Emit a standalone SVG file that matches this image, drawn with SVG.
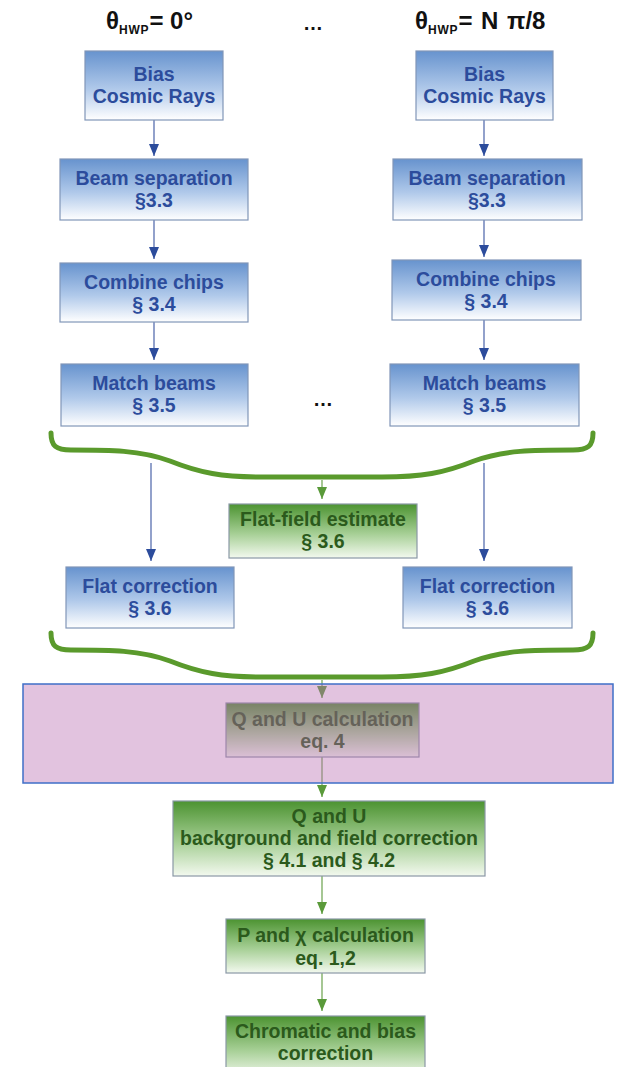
<svg xmlns="http://www.w3.org/2000/svg" width="617" height="1067" viewBox="0 0 617 1067">
  <defs>
    <linearGradient id="gBlue" x1="0" y1="0" x2="0" y2="1">
      <stop offset="0" stop-color="#6793ce"/>
      <stop offset="0.55" stop-color="#b0c9ea"/>
      <stop offset="1" stop-color="#ffffff"/>
    </linearGradient>
    <linearGradient id="gGreen" x1="0" y1="0" x2="0" y2="1">
      <stop offset="0" stop-color="#4c9331"/>
      <stop offset="0.55" stop-color="#a6cf95"/>
      <stop offset="1" stop-color="#f3f9ef"/>
    </linearGradient>
    <marker id="ahB" viewBox="0 0 12 10" refX="12" refY="5" markerWidth="12" markerHeight="10" markerUnits="userSpaceOnUse" orient="auto">
      <path d="M0 0 L12 5 L0 10 Z" fill="#2c4c9c"/>
    </marker>
    <marker id="ahG" viewBox="0 0 12 10" refX="12" refY="5" markerWidth="12" markerHeight="10" markerUnits="userSpaceOnUse" orient="auto">
      <path d="M0 0 L12 5 L0 10 Z" fill="#5a9a3a"/>
    </marker>
  </defs>
  <style>
    text { font-family: "Liberation Sans", Arial, sans-serif; font-weight: bold; }
    .title { font-size: 24px; fill: #111111; }
    .sub { font-size: 12px; letter-spacing: 0.8px; }
    .dots { font-size: 20px; fill: #111111; }
    .bbox { fill: url(#gBlue); stroke: #8196b8; stroke-width: 1.2; }
    .gbox { fill: url(#gGreen); stroke: #8a98a6; stroke-width: 1.2; }
    .bt { font-size: 19.5px; fill: #2c4c9c; text-anchor: middle; }
    .gt { font-size: 19.5px; fill: #2b5a1c; text-anchor: middle; }
    .blink { stroke: #4a63a8; stroke-width: 1.2; fill: none; marker-end: url(#ahB); }
    .glink { stroke: #6aa24c; stroke-width: 1.2; fill: none; marker-end: url(#ahG); }
    .brace { stroke: #5a9a2c; stroke-width: 5; fill: none; stroke-linecap: round; }
    .overlay { fill: #b86eb1; fill-opacity: 0.41; }
    .overlay-edge { fill: none; stroke: #3f6fc8; stroke-width: 1.5; }
  </style>

  <!-- column headings -->
  <g id="heading-left">
    <text class="title" x="106" y="29">θ<tspan class="sub" dy="5">HWP</tspan><tspan dy="-5">= 0°</tspan></text>
  </g>
  <g id="heading-dots">
    <text class="dots" x="313" y="30" text-anchor="middle">…</text>
  </g>
  <g id="heading-right">
    <text class="title" x="415" y="29" word-spacing="2">θ<tspan class="sub" dy="5">HWP</tspan><tspan dy="-5">= N π/8</tspan></text>
  </g>

  <!-- connectors -->
  <g id="connectors">
    <line class="blink" x1="154" y1="120" x2="154" y2="156"/>
    <line class="blink" x1="154" y1="220" x2="154" y2="259"/>
    <line class="blink" x1="154" y1="322" x2="154" y2="360"/>
    <line class="blink" x1="484" y1="120" x2="484" y2="156"/>
    <line class="blink" x1="484" y1="220" x2="484" y2="257"/>
    <line class="blink" x1="484" y1="320" x2="484" y2="360"/>
    <line class="blink" x1="151" y1="463" x2="151" y2="561"/>
    <line class="blink" x1="484" y1="463" x2="484" y2="561"/>
    <line class="glink" x1="322" y1="480" x2="322" y2="499"/>
    <line class="glink" x1="322" y1="680" x2="322" y2="698"/>
    <line class="glink" x1="322" y1="757" x2="322" y2="797"/>
    <line class="glink" x1="322" y1="876" x2="322" y2="914"/>
    <line class="glink" x1="322" y1="973" x2="322" y2="1011"/>
    <path id="brace-upper" class="brace" d="M51 433 C51 446 56 450 71 450 C110 450 140 450 170 461 C200 473 222 477 262 477 L382 477 C422 477 444 473 474 461 C504 450 534 450 573 450 C588 450 593 446 593 433"/>
    <path id="brace-lower" class="brace" d="M51 633 C51 646 56 650 71 650 C110 650 140 650 170 661 C200 673 222 677 262 677 L382 677 C422 677 444 673 474 661 C504 650 534 650 573 650 C588 650 593 646 593 633"/>
  </g>

  <!-- left column -->
  <g id="bias-left">
    <rect class="bbox" x="85" y="51" width="138" height="69"/>
    <text class="bt" x="154" y="81">Bias</text>
    <text class="bt" x="154" y="103">Cosmic Rays</text>
  </g>
  <g id="beamsep-left">
    <rect class="bbox" x="60" y="159" width="188" height="61"/>
    <text class="bt" x="154" y="185">Beam separation</text>
    <text class="bt" x="154" y="207">§3.3</text>
  </g>
  <g id="combine-left">
    <rect class="bbox" x="60" y="263" width="188" height="59"/>
    <text class="bt" x="154" y="289">Combine chips</text>
    <text class="bt" x="154" y="311">§ 3.4</text>
  </g>
  <g id="match-left">
    <rect class="bbox" x="61" y="364" width="187" height="62"/>
    <text class="bt" x="154" y="390">Match beams</text>
    <text class="bt" x="154" y="412">§ 3.5</text>
  </g>
  <g id="flatcorr-left">
    <rect class="bbox" x="66" y="567" width="168" height="61"/>
    <text class="bt" x="150" y="593">Flat correction</text>
    <text class="bt" x="150" y="615">§ 3.6</text>
  </g>

  <!-- right column -->
  <g id="bias-right">
    <rect class="bbox" x="416" y="51" width="137" height="69"/>
    <text class="bt" x="484.5" y="81">Bias</text>
    <text class="bt" x="484.5" y="103">Cosmic Rays</text>
  </g>
  <g id="beamsep-right">
    <rect class="bbox" x="393" y="159" width="189" height="61"/>
    <text class="bt" x="487" y="185">Beam separation</text>
    <text class="bt" x="487" y="207">§3.3</text>
  </g>
  <g id="combine-right">
    <rect class="bbox" x="392" y="260" width="189" height="60"/>
    <text class="bt" x="486" y="286">Combine chips</text>
    <text class="bt" x="486" y="308">§ 3.4</text>
  </g>
  <g id="match-dots">
    <text class="dots" x="323" y="406" text-anchor="middle">…</text>
  </g>
  <g id="match-right">
    <rect class="bbox" x="390" y="364" width="189" height="62"/>
    <text class="bt" x="484.5" y="390">Match beams</text>
    <text class="bt" x="484.5" y="412">§ 3.5</text>
  </g>
  <g id="flatcorr-right">
    <rect class="bbox" x="403" y="567" width="169" height="61"/>
    <text class="bt" x="487.5" y="593">Flat correction</text>
    <text class="bt" x="487.5" y="615">§ 3.6</text>
  </g>

  <!-- shared steps -->
  <g id="flatfield">
    <rect class="gbox" x="229" y="504" width="188" height="54"/>
    <text class="gt" x="323" y="526">Flat-field estimate</text>
    <text class="gt" x="323" y="548">§ 3.6</text>
  </g>
  <g id="qu-calc">
    <rect class="gbox" x="226" y="703" width="193" height="54"/>
    <text class="gt" x="322.5" y="726">Q and U calculation</text>
    <text class="gt" x="322.5" y="748">eq. 4</text>
  </g>
  <g id="highlight">
    <rect class="overlay" x="23" y="684" width="590" height="99"/>
    <rect class="overlay-edge" x="23" y="684" width="590" height="99"/>
  </g>
  <g id="qu-background">
    <rect class="gbox" x="173" y="801" width="312" height="75"/>
    <text class="gt" x="329" y="823">Q and U</text>
    <text class="gt" x="329" y="845">background and field correction</text>
    <text class="gt" x="329" y="867">§ 4.1 and § 4.2</text>
  </g>
  <g id="p-chi">
    <rect class="gbox" x="226" y="919" width="199" height="54"/>
    <text class="gt" x="325.5" y="942">P and χ calculation</text>
    <text class="gt" x="325.5" y="965">eq. 1,2</text>
  </g>
  <g id="chromatic">
    <rect class="gbox" x="226" y="1016" width="199" height="62"/>
    <text class="gt" x="325.5" y="1038">Chromatic and bias</text>
    <text class="gt" x="325.5" y="1060">correction</text>
  </g>
</svg>
